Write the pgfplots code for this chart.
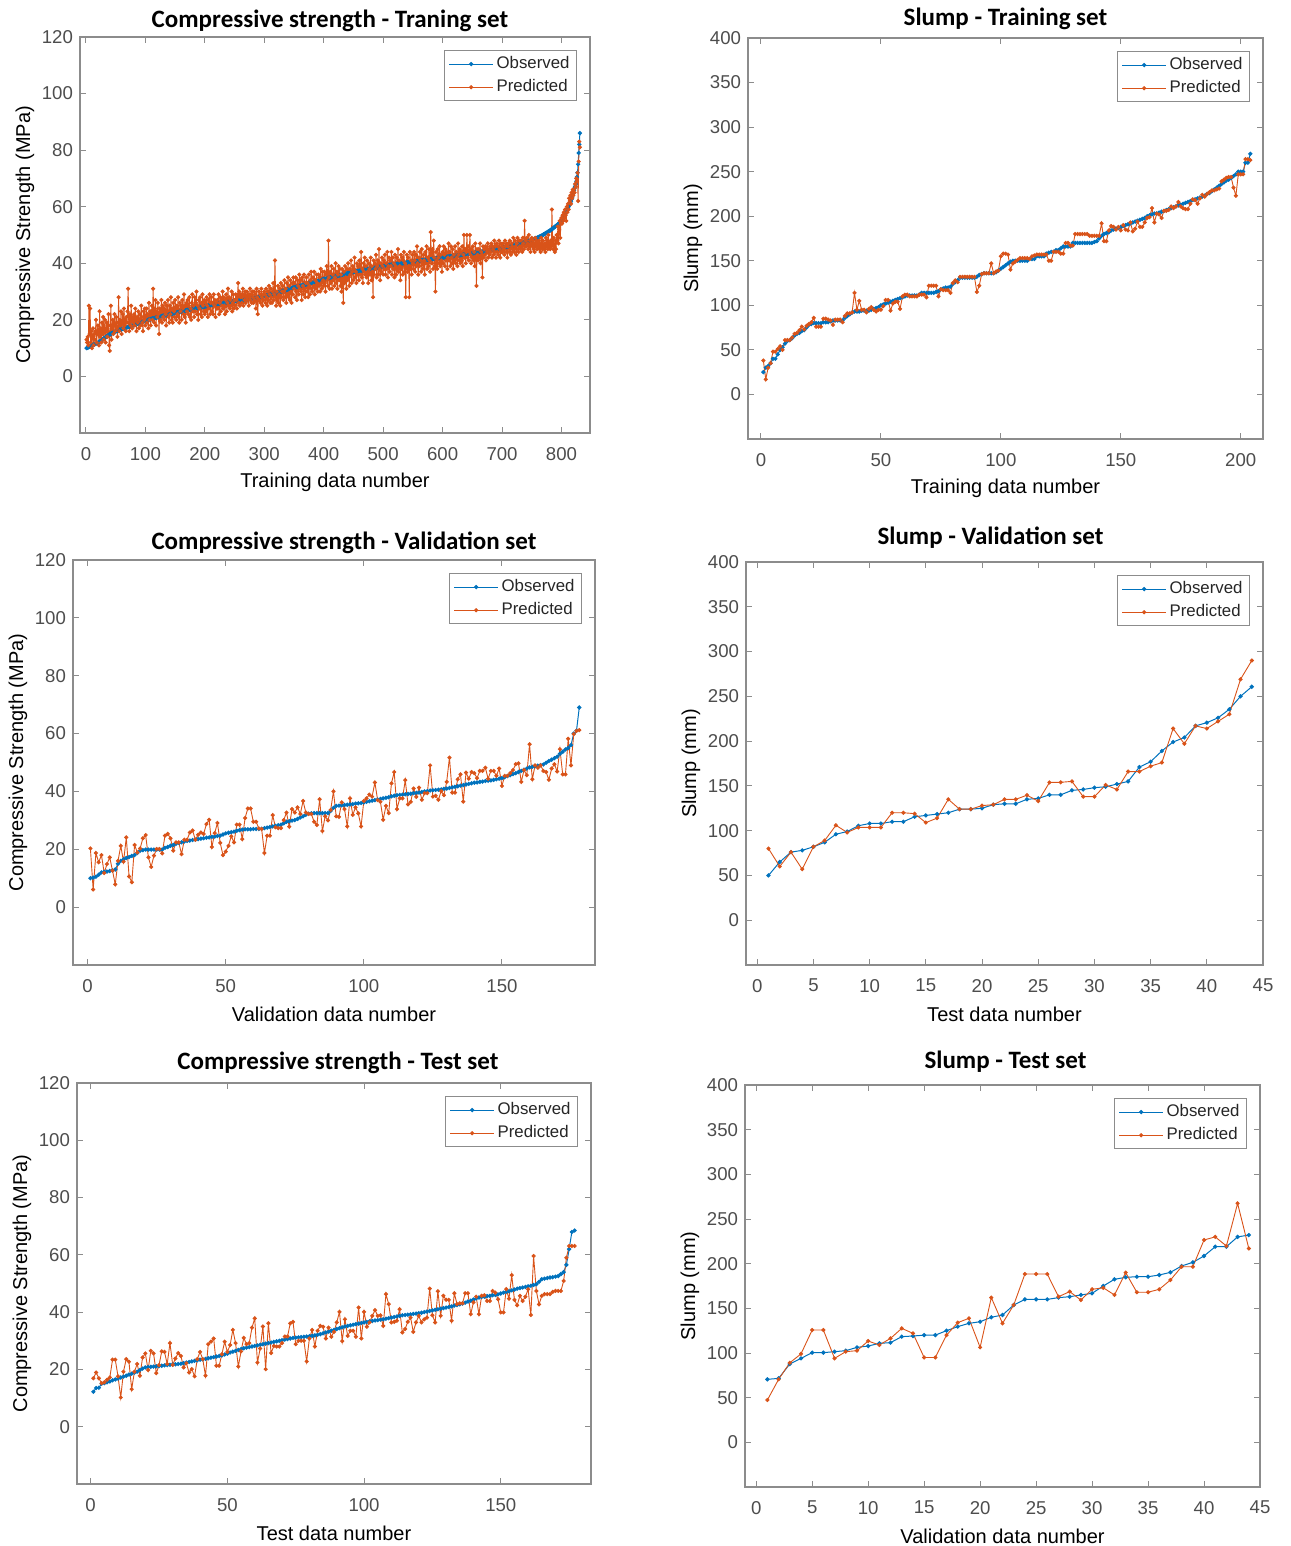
\documentclass[border=0pt]{standalone}
\usepackage{pgfplots}
\pgfplotsset{compat=1.18}
\usepackage{pgfplotstable}
\usepackage{fontspec}
\setmainfont{Liberation Sans}
\newfontfamily\titlefont{Carlito}
\definecolor{mblue}{RGB}{0,114,189}
\definecolor{morange}{RGB}{217,83,25}
\definecolor{axgray}{RGB}{140,140,140}
\definecolor{txgray}{RGB}{77,77,77}

% compressive strength, training set (observed, predicted)
\pgfplotstableread{
o p
10.0 13
10.1 12
10.2 14
10.3 11
10.4 25
10.5 15
10.6 24
10.7 12
10.8 16
10.9 10
11.0 14
11.1 17
11.2 11
11.3 15
11.4 13
11.5 16
11.6 20
11.7 12
11.8 15
11.9 18
12.0 16
12.2 11
12.3 23
12.5 14
12.6 17
12.8 12
12.9 19
13.1 15
13.2 21
13.4 13
13.5 17
13.7 20
13.8 12
14.0 16
14.1 19
14.3 14
14.4 18
14.6 22
14.7 11
14.9 9
15.0 18
15.1 25
15.2 13
15.3 17
15.4 20
15.5 15
15.6 19
15.7 22
15.8 16
15.9 18
16.0 21
16.1 17
16.2 14
16.2 19
16.3 28
16.4 16
16.5 20
16.6 18
16.6 23
16.7 15
16.8 19
16.9 22
16.9 17
17.0 24
17.1 18
17.1 20
17.2 16
17.3 21
17.3 19
17.4 23
17.5 31
17.6 19
17.6 16
17.7 22
17.8 18
17.8 25
17.9 20
18.0 17
18.0 21
18.1 19
18.2 22
18.3 18
18.4 24
18.4 20
18.5 16
18.6 21
18.7 19
18.7 23
18.8 17
18.9 20
19.0 22
19.1 18
19.2 25
19.2 21
19.3 19
19.4 16
19.5 23
19.5 20
19.6 24
19.7 18
19.8 21
19.9 24
19.9 19
20.0 22
20.0 17
20.1 26
20.1 20
20.2 23
20.2 18
20.3 22
20.4 25
20.5 20
20.5 31
20.6 22
20.6 19
20.7 24
20.7 27
20.8 18
20.8 23
20.9 21
21.0 26
21.0 22
21.1 15
21.1 24
21.2 20
21.2 23
21.3 27
21.3 19
21.4 25
21.4 21
21.5 24
21.5 20
21.6 26
21.6 22
21.7 18
21.7 25
21.8 23
21.8 27
21.9 21
21.9 19
22.0 25
22.0 22
22.1 28
22.1 20
22.2 24
22.2 19
22.3 26
22.3 23
22.4 21
22.4 27
22.5 24
22.5 20
22.6 25
22.6 22
22.7 28
22.7 21
22.8 19
22.8 26
22.9 23
22.9 25
23.0 20
23.0 27
23.1 24
23.1 22
23.2 29
23.2 21
23.3 25
23.3 19
23.4 26
23.4 23
23.5 27
23.5 22
23.6 25
23.6 28
23.7 21
23.7 24
23.8 20
23.8 26
23.9 29
23.9 23
24.0 25
24.0 21
24.1 28
24.1 23
24.1 26
24.2 30
24.2 22
24.2 25
24.3 20
24.3 27
24.4 24
24.4 28
24.5 22
24.5 26
24.5 21
24.6 29
24.6 25
24.6 23
24.7 27
24.7 22
24.8 26
24.8 23
24.9 28
24.9 25
25.0 21
25.0 27
25.1 24
25.1 29
25.2 22
25.2 26
25.3 28
25.3 23
25.4 26
25.4 22
25.4 29
25.5 25
25.5 27
25.5 21
25.6 26
25.6 24
25.7 27
25.7 24
25.7 29
25.8 22
25.8 26
25.8 28
25.9 23
25.9 27
25.9 25
25.9 30
26.0 24
26.0 28
26.1 25
26.1 22
26.1 27
26.2 29
26.2 23
26.2 26
26.3 31
26.3 25
26.4 28
26.4 24
26.4 27
26.5 25
26.5 30
26.5 23
26.6 26
26.6 29
26.6 24
26.6 27
26.7 25
26.7 29
26.7 27
26.8 24
26.8 28
26.8 33
26.9 26
26.9 30
26.9 25
26.9 28
27.0 29
27.0 26
27.0 28
27.1 31
27.1 25
27.1 29
27.2 27
27.2 30
27.2 26
27.2 28
27.3 30
27.3 27
27.4 29
27.4 25
27.4 28
27.5 31
27.5 27
27.5 29
27.6 26
27.6 30
27.7 28
27.7 26
27.8 30
27.8 27
27.8 29
27.9 24
27.9 31
27.9 28
28.0 22
28.0 27
28.1 30
28.1 27
28.2 29
28.2 26
28.2 31
28.3 28
28.3 25
28.3 29
28.4 27
28.4 30
28.5 29
28.5 26
28.6 31
28.6 28
28.7 25
28.7 30
28.8 27
28.8 32
28.9 29
28.9 26
29.0 31
29.0 28
29.1 26
29.1 30
29.2 33
29.2 27
29.3 29
29.3 41
29.4 28
29.4 25
29.5 30
29.6 27
29.6 32
29.7 26
29.8 29
29.8 31
29.9 25
30.0 33
30.0 28
30.1 30
30.2 32
30.3 27
30.3 30
30.4 34
30.5 28
30.5 31
30.6 26
30.7 33
30.7 29
30.8 35
30.9 28
31.0 32
31.0 27
31.1 34
31.2 30
31.2 26
31.3 33
31.3 29
31.4 35
31.4 31
31.5 33
31.5 28
31.6 35
31.6 30
31.7 27
31.7 34
31.8 32
31.8 29
31.9 36
31.9 31
32.0 34
32.1 30
32.1 27
32.2 35
32.2 32
32.3 29
32.4 36
32.4 31
32.5 28
32.5 33
32.6 35
32.7 30
32.7 33
32.8 28
32.8 36
32.9 32
33.0 29
33.0 34
33.1 37
33.1 31
33.2 30
33.3 35
33.3 32
33.4 37
33.4 29
33.5 34
33.6 31
33.6 36
33.7 33
33.7 30
33.8 36
33.9 32
33.9 35
34.0 30
34.0 38
34.1 33
34.2 31
34.2 37
34.3 34
34.3 32
34.4 37
34.5 33
34.5 30
34.6 36
34.6 39
34.7 34
34.8 32
34.8 48
34.9 35
34.9 31
35.0 37
35.0 33
35.1 39
35.1 31
35.2 36
35.2 34
35.3 38
35.3 32
35.4 35
35.4 40
35.5 33
35.5 37
35.6 31
35.6 36
35.7 39
35.7 34
35.8 38
35.8 32
35.9 36
35.9 30
36.0 38
36.0 34
36.1 26
36.1 37
36.2 33
36.2 39
36.3 35
36.3 31
36.4 38
36.4 34
36.5 40
36.5 35
36.6 32
36.6 38
36.7 36
36.7 41
36.8 33
36.8 37
36.9 39
36.9 34
37.0 38
37.0 42
37.1 35
37.1 37
37.1 33
37.2 40
37.2 36
37.2 39
37.3 34
37.3 41
37.4 36
37.4 39
37.5 44
37.5 35
37.5 38
37.6 33
37.6 40
37.6 37
37.7 42
37.7 36
37.8 39
37.8 35
37.9 41
37.9 37
37.9 33
38.0 40
38.0 38
38.0 36
38.1 42
38.1 34
38.2 39
38.2 37
38.3 28
38.3 41
38.3 36
38.4 40
38.4 38
38.4 43
38.5 35
38.5 39
38.6 41
38.6 36
38.7 45
38.7 38
38.7 34
38.8 40
38.8 37
38.8 42
38.9 39
38.9 36
39.0 41
39.0 38
39.1 43
39.1 36
39.1 40
39.2 38
39.2 44
39.2 35
39.3 39
39.3 42
39.4 37
39.4 41
39.4 39
39.5 44
39.5 36
39.5 42
39.5 38
39.6 40
39.6 35
39.6 43
39.7 39
39.7 36
39.7 42
39.8 38
39.8 45
39.8 37
39.8 41
39.9 39
39.9 34
39.9 43
40.0 38
40.0 42
40.0 36
40.1 41
40.1 44
40.1 37
40.1 40
40.2 28
40.2 39
40.2 43
40.3 37
40.3 42
40.3 39
40.4 28
40.4 44
40.4 38
40.4 41
40.5 36
40.5 43
40.5 40
40.6 38
40.6 44
40.6 41
40.7 37
40.7 43
40.7 39
40.7 46
40.8 40
40.8 36
40.8 42
40.9 39
40.9 44
40.9 41
41.0 37
41.0 45
41.0 40
41.0 38
41.1 43
41.1 41
41.1 36
41.2 44
41.2 40
41.2 46
41.3 38
41.3 42
41.3 39
41.3 45
41.4 41
41.4 37
41.4 51
41.5 43
41.5 40
41.5 45
41.6 38
41.6 48
41.6 42
41.6 39
41.7 30
41.7 44
41.7 41
41.8 38
41.8 45
41.8 42
41.9 40
41.9 46
41.9 39
41.9 43
42.0 41
42.0 37
42.0 44
42.1 40
42.1 46
42.1 43
42.2 39
42.2 45
42.2 41
42.2 44
42.3 38
42.3 42
42.3 47
42.4 41
42.4 44
42.4 39
42.5 46
42.5 42
42.5 40
42.5 45
42.6 38
42.6 43
42.6 41
42.7 46
42.7 40
42.7 44
42.8 42
42.8 39
42.8 47
42.8 43
42.9 41
42.9 45
42.9 40
43.0 44
43.0 41
43.0 46
43.1 39
43.1 43
43.1 50
43.1 42
43.2 45
43.2 40
43.2 44
43.3 50
43.3 42
43.3 46
43.4 41
43.4 44
43.4 50
43.4 43
43.5 40
43.5 45
43.5 42
43.6 46
43.6 41
43.7 44
43.7 39
43.7 47
43.8 42
43.8 32
43.8 45
43.9 43
43.9 41
44.0 45
44.0 42
44.0 47
44.1 40
44.1 44
44.1 43
44.1 35
44.2 46
44.2 42
44.2 45
44.3 43
44.3 46
44.4 41
44.4 45
44.4 44
44.5 47
44.5 42
44.5 45
44.6 43
44.6 46
44.7 44
44.7 47
44.8 42
44.8 46
44.8 45
44.9 43
44.9 48
44.9 44
45.0 46
45.0 42
45.1 47
45.1 44
45.2 46
45.2 43
45.2 48
45.3 45
45.3 42
45.3 47
45.4 44
45.4 46
45.5 44
45.5 47
45.6 45
45.6 43
45.7 48
45.7 46
45.8 44
45.8 47
45.9 42
45.9 46
46.0 47
46.0 44
46.1 48
46.1 45
46.2 43
46.2 47
46.3 46
46.3 44
46.4 49
46.4 45
46.5 44
46.5 48
46.6 46
46.6 43
46.7 47
46.7 49
46.8 45
46.8 44
46.9 48
46.9 46
47.0 45
47.1 48
47.1 46
47.2 44
47.2 49
47.3 47
47.4 45
47.4 55
47.5 46
47.5 48
47.6 46
47.7 49
47.7 47
47.8 45
47.9 50
47.9 46
48.0 48
48.1 44
48.1 47
48.2 49
48.3 46
48.4 48
48.5 45
48.6 47
48.7 44
48.7 49
48.8 46
48.9 48
49.0 45
49.1 47
49.2 46
49.3 48
49.4 45
49.5 47
49.6 44
49.7 49
49.8 46
49.9 45
50.0 48
50.2 46
50.3 45
50.4 47
50.6 44
50.7 49
50.8 46
50.9 48
51.1 45
51.2 50
51.3 46
51.5 47
51.6 45
51.8 48
51.9 46
52.1 59
52.2 47
52.4 45
52.6 49
52.7 46
52.9 44
53.1 48
53.2 45
53.4 50
53.6 48
53.8 53
54.0 47
54.2 52
54.4 55
54.7 49
54.9 54
55.1 56
55.3 54
55.7 57
56.1 55
56.5 58
56.9 56
57.3 59
57.8 57
58.3 55
58.8 60
59.2 58
59.5 61
60.0 59
60.5 63
61.0 62
61.5 64
62.0 61
62.6 65
63.2 63
63.9 66
64.7 64
65.8 66
66.5 65
67.2 68
68.0 67
69.0 70
70.5 69
72.0 72
75.0 62
79.0 76
82.0 83
86.0 81
}\cstrain

% slump, training set
\pgfplotstableread{
o p
25 38
30 17
32 30
35 35
40 48
40 48
45 51
50 54
53 50
57 61
60 61
61 61
63 64
66 68
68 69
69 72
71 76
72 73
75 77
78 79
79 81
80 86
80 76
80 76
80 76
81 85
81 85
81 84
82 83
83 78
83 84
83 84
83 84
83 81
86 88
88 91
90 91
92 92
93 114
93 95
93 105
94 95
94 95
94 92
94 96
95 98
96 95
97 93
98 95
100 95
101 99
102 106
103 106
104 94
105 102
106 104
107 104
108 96
109 110
110 112
111 112
111 110
111 110
111 110
111 110
112 112
114 112
114 112
114 109
114 122
114 122
114 122
115 122
116 110
118 118
119 117
120 117
120 117
121 114
124 125
126 128
128 126
131 132
131 132
131 132
131 132
131 132
131 132
131 132
132 115
134 122
135 135
136 136
136 136
136 136
136 147
136 136
137 138
139 139
141 155
143 158
145 158
147 157
149 140
150 147
150 149
150 151
150 153
150 153
150 153
150 153
152 152
152 155
152 156
155 157
155 157
155 157
155 157
158 157
159 150
160 150
160 160
162 160
162 160
164 158
166 158
166 170
166 170
166 167
170 167
170 180
170 180
170 180
170 180
170 180
170 180
170 178
170 178
171 178
172 178
175 178
178 192
180 172
181 172
182 184
184 189
185 188
186 185
187 188
188 184
189 190
190 185
191 184
192 193
193 183
194 186
195 194
196 188
197 188
198 193
200 198
201 199
202 209
203 193
203 203
204 202
205 198
206 206
207 206
208 207
209 211
210 209
211 211
212 216
213 211
214 209
215 208
216 208
217 214
218 219
219 218
220 214
221 220
222 224
223 222
225 225
226 227
228 229
230 229
232 230
234 231
236 239
238 241
240 243
241 244
243 244
245 232
247 223
250 247
250 247
250 247
260 264
260 264
270 263
}\sltrain

% compressive strength, validation set
\pgfplotstableread{
o p
10.0 20.3
10.2 6.1
10.5 18.7
11.2 15.5
12.0 18.0
12.2 11.8
12.3 14.9
12.5 17.2
12.7 12.6
13.0 7.9
15.0 16.0
16.0 21.2
16.5 15.7
17.0 24.1
17.3 10.6
17.7 8.6
18.0 21.5
18.7 18.9
19.5 20.3
19.7 23.8
19.9 24.9
19.9 17.2
19.9 13.9
19.9 17.8
19.9 20.1
19.9 20.1
19.9 18.6
20.5 24.7
20.8 25.3
21.2 23.8
21.5 19.5
21.9 22.4
22.2 22.4
22.4 18.3
22.7 23.3
22.9 23.3
23.0 25.8
23.2 26.5
23.3 23.3
23.5 25.0
23.7 25.8
23.8 25.3
24.0 28.7
24.1 30.2
24.3 20.8
24.4 25.6
24.6 29.1
24.7 22.2
25.1 18.0
25.5 19.2
25.7 21.2
25.9 24.5
26.1 22.4
26.4 28.5
26.6 28.5
26.8 23.5
26.9 30.8
26.9 34.1
26.9 34.1
27.0 29.5
27.0 29.5
27.0 27.2
27.1 27.0
27.3 18.7
27.5 24.7
27.7 24.7
27.9 31.8
28.1 27.6
28.3 27.3
28.5 27.3
29.0 30.1
29.5 32.7
29.7 27.8
29.9 33.9
30.1 32.7
30.5 34.5
31.0 32.2
31.4 36.7
31.9 32.7
32.3 32.2
32.4 32.2
32.5 29.5
32.5 28.4
32.5 37.3
32.5 26.3
32.5 31.4
32.5 30.0
33.3 33.6
34.3 40.0
35.0 31.4
35.1 31.2
35.2 36.2
35.3 33.9
35.4 27.9
35.5 37.6
35.6 31.9
35.8 34.5
35.9 32.4
36.0 27.9
36.2 36.7
36.4 37.6
36.6 38.9
36.8 38.2
37.0 43.1
37.2 37.0
37.4 36.4
37.6 30.2
37.8 35.0
38.0 32.5
38.3 42.8
38.5 46.7
38.7 33.9
38.8 37.6
38.9 37.6
39.0 43.9
39.1 35.5
39.2 36.4
39.4 41.0
39.5 38.1
39.6 41.3
39.8 37.1
40.0 39.4
40.1 39.4
40.3 49.0
40.4 38.2
40.5 38.5
40.6 37.1
40.7 40.1
40.9 38.7
41.0 43.3
41.2 51.7
41.4 39.6
41.6 39.6
41.8 44.2
42.0 45.9
42.2 36.5
42.4 46.5
42.6 44.4
42.8 46.7
43.0 46.3
43.1 44.6
43.3 47.1
43.4 47.1
43.6 48.2
43.7 44.4
43.8 47.1
44.0 47.1
44.2 45.4
44.4 47.9
44.6 41.9
44.9 45.4
45.3 45.4
45.6 46.3
46.0 47.4
46.3 49.4
46.7 49.7
47.1 43.3
47.5 47.4
47.9 45.6
48.3 56.3
48.5 44.2
48.7 49.0
48.9 48.2
49.1 49.0
49.3 47.1
49.9 46.7
50.5 44.0
51.0 47.9
51.5 49.4
52.0 46.9
53.0 54.6
53.7 45.9
54.5 45.9
55.0 58.2
56.0 49.0
60.0 59.8
61.0 60.9
69.0 61.2
}\csval

% slump, validation set
\pgfplotstableread{
o p
50 80
65 60
76 76
78 57
82 82
87 89
96 106
99 98
105.5 103.6
108 103.6
108 103.6
110 120
110 120
115.5 119
117 109
118.5 114
120 135
124 124
124 124
125 128
129 129
130 135
130 135
135 139.6
136 133
140 153.8
140 154
145 155
146 138
148 138
149 151
152 146
155 166
171 166
177 172
189 176
199 214
204 197
217 217
220.6 214
226 222
235.5 230
250 269
260.7 290
}\slval

% compressive strength, test set
\pgfplotstableread{
o p
12.2 16.9
13.5 18.9
13.6 16.9
15.0 15.2
15.2 15.5
15.5 16.4
15.8 17.2
16.2 23.4
16.5 23.4
16.8 17.6
17.2 10.2
17.5 19.2
17.8 23.6
18.2 22.7
18.5 13.1
18.9 19.2
19.2 21.9
19.8 17.8
20.3 24.2
20.7 25.6
20.8 19.8
20.9 26.5
21.0 25.6
21.1 18.7
21.2 21.5
21.3 26.3
21.4 26.1
21.5 21.9
21.6 29.2
21.7 21.6
21.8 23.8
21.9 25.7
22.0 24.7
22.2 20.7
22.4 22.2
22.6 18.9
22.8 20.1
23.0 17.6
23.2 23.6
23.4 26.1
23.5 23.6
23.7 17.8
23.9 28.8
24.1 29.7
24.3 30.8
24.5 21.3
24.7 21.3
24.9 25.3
25.2 29.7
25.5 26.1
25.9 28.5
26.2 33.8
26.5 29.2
26.8 21.0
27.1 26.3
27.4 31.0
27.6 28.8
27.8 29.2
28.0 34.6
28.2 37.8
28.4 22.4
28.6 27.3
28.8 35.0
29.0 20.1
29.2 36.1
29.4 25.7
29.6 28.2
29.8 28.0
30.0 28.0
30.2 29.2
30.4 31.5
30.6 31.5
30.8 36.1
31.0 36.6
31.1 28.8
31.2 30.0
31.3 30.0
31.4 30.0
31.5 22.8
31.6 30.8
31.7 33.8
31.9 28.0
32.1 33.5
32.3 35.2
32.6 34.9
32.9 30.8
33.2 34.6
33.5 31.4
33.8 33.1
34.1 36.4
34.4 40.1
34.7 29.9
35.0 37.5
35.2 31.7
35.4 33.5
35.6 33.5
35.8 31.4
36.0 41.6
36.2 30.8
36.4 40.1
36.6 34.9
36.8 36.4
36.9 38.7
37.1 40.7
37.2 38.7
37.4 38.9
37.5 35.2
37.7 46.3
37.9 42.8
38.1 36.4
38.3 36.6
38.5 37.0
38.7 41.0
38.9 32.9
39.0 34.1
39.1 36.6
39.2 38.1
39.4 33.1
39.5 36.4
39.6 38.7
39.8 36.4
40.0 37.5
40.2 38.1
40.4 48.2
40.6 38.9
40.8 36.4
41.0 47.3
41.2 38.7
41.4 45.7
41.6 44.3
41.8 44.3
42.0 37.0
42.3 46.6
42.5 42.8
42.7 43.1
43.0 43.1
43.3 46.6
43.7 46.6
44.0 39.3
44.4 43.4
44.8 45.4
45.1 39.3
45.3 45.7
45.4 45.9
45.6 43.9
45.7 43.9
45.9 47.4
46.0 46.8
46.2 44.5
46.5 39.9
46.8 39.9
47.1 48.0
47.3 44.7
47.6 52.9
47.9 44.3
48.2 42.4
48.4 45.7
48.6 43.9
48.8 45.4
49.0 48.0
49.2 39.0
49.5 59.6
49.7 47.4
50.6 42.7
51.5 45.7
51.7 46.3
51.9 46.3
52.1 46.3
52.2 47.1
52.4 47.4
52.6 47.4
53.3 47.4
54.0 50.9
56.5 59.0
62.0 63.1
68.0 63.1
68.5 63.1
}\cstest

% slump, test set
\pgfplotstableread{
o p
70.5 47.4
71.6 70.5
87.7 89
94 99
100.4 125.7
100.4 125.7
101.5 94
102.6 101.5
106.3 102.6
107.8 113.4
110.8 109
111.6 116.4
118.3 127.6
119 122
120 95
120 95
125 120
129.5 134
133.2 138.8
135 106.3
140 162
142.5 133.2
153.7 153.7
160 188.4
160 188.4
160 188.4
162 163
163 168.7
165 159.3
166.8 171.3
175 173
182.5 165
184.7 190
185.4 168
185.4 168
187.3 171.3
190.3 181.7
197.4 196.6
201.5 196.6
208.6 226.5
219 230
219 219.8
230 267.5
232 217
}\sltest

\pgfplotsset{
  mat/.style={
    scale only axis,
    anchor=south west,
    axis line style={draw=axgray, line width=0.6pt},
    every tick/.style={draw=axgray, line width=0.5pt},
    major tick length=3pt,
    tick align=inside,
    tick label style={font=\fontsize{9.3}{10}\selectfont, text=txgray},
    /pgf/number format/assume math mode=true,
    xticklabel style={yshift=-3.5pt},
    label style={font=\fontsize{10.65}{12}\selectfont, text=txgray},
    every axis x label/.style={at={([yshift=-24.5pt]axis description cs:0.5,0)}, anchor=center},
    every axis y label/.style={at={([xshift=-27.5pt]axis description cs:0,0.5)}, anchor=center, rotate=90},
    every axis title/.style={at={(axis description cs:0.5,1)}, anchor=center,
      font=\titlefont\bfseries\fontsize{12.5}{14}\selectfont, text=black},
    legend style={at={([xshift=-6.5pt,yshift=-6.5pt]axis description cs:1,1)}, anchor=north east,
      draw=black!45, line width=0.5pt, fill=white, font=\fontsize{8.4}{9.5}\selectfont,
      text=black!85, inner xsep=2pt, inner ysep=1.5pt, row sep=1pt, nodes={inner sep=1.5pt}},
    legend cell align=left,
    legend image code/.code={\draw[mark repeat=2,mark phase=2,#1] plot coordinates {(0pt,0pt) (11pt,0pt) (22pt,0pt)};},
  },
  obs/.style={color=mblue, line width=0.5pt, mark=*, mark size=0.8pt},
  pre/.style={color=morange, line width=0.45pt, mark=*, mark size=0.8pt},
}

\begin{document}
\begin{tikzpicture}
\path[use as bounding box] (0,0) rectangle (645pt,773pt);

% top left
\begin{axis}[mat, at={(40pt,556.5pt)}, width=255pt, height=198pt,
  xmin=-10, xmax=848, ymin=-20, ymax=120,
  xtick={0,100,...,800}, ytick={0,20,...,120},
  title={Compressive strength - Traning set}, title style={xshift=-2.5pt, yshift=8pt},
  xlabel={Training data number}, ylabel={Compressive Strength (MPa)}]
\addplot[obs] table[x expr=\coordindex+1, y=o] {\cstrain};
\addplot[pre] table[x expr=\coordindex+1, y=p] {\cstrain};
\legend{Observed, Predicted}
\end{axis}

% top right
\begin{axis}[mat, at={(374pt,553.5pt)}, width=257.5pt, height=200.5pt,
  xmin=-5.4, xmax=209.3, ymin=-50, ymax=400,
  xtick={0,50,...,200}, ytick={0,50,...,400},
  title={Slump - Training set}, title style={yshift=9.5pt},
  xlabel={Training data number}, ylabel={Slump (mm)}]
\addplot[obs] table[x expr=\coordindex+1, y=o] {\sltrain};
\addplot[pre] table[x expr=\coordindex+1, y=p] {\sltrain};
\legend{Observed, Predicted}
\end{axis}

% middle left
\begin{axis}[mat, at={(36.5pt,290.5pt)}, width=261pt, height=202.5pt,
  xmin=-5.3, xmax=183.7, ymin=-20, ymax=120,
  xtick={0,50,...,150}, ytick={0,20,...,120},
  title={Compressive strength - Validation set}, title style={xshift=5pt, yshift=8.5pt},
  xlabel={Validation data number}, ylabel={Compressive Strength (MPa)}]
\addplot[obs] table[x expr=\coordindex+1, y=o] {\csval};
\addplot[pre] table[x expr=\coordindex+1, y=p] {\csval};
\legend{Observed, Predicted}
\end{axis}

% middle right
\begin{axis}[mat, at={(373pt,290.5pt)}, width=258.5pt, height=201.5pt,
  xmin=-1, xmax=45, ymin=-50, ymax=400,
  xtick={0,5,...,45}, ytick={0,50,...,400},
  title={Slump - Validation set}, title style={xshift=-7pt, yshift=12pt},
  xlabel={Test data number}, ylabel={Slump (mm)}]
\addplot[obs] table[x expr=\coordindex+1, y=o] {\slval};
\addplot[pre] table[x expr=\coordindex+1, y=p] {\slval};
\legend{Observed, Predicted}
\end{axis}

% bottom left
\begin{axis}[mat, at={(38.5pt,31pt)}, width=257pt, height=200.5pt,
  xmin=-5, xmax=183, ymin=-20, ymax=120,
  xtick={0,50,...,150}, ytick={0,20,...,120},
  title={Compressive strength - Test set}, title style={xshift=2pt, yshift=10pt},
  xlabel={Test data number}, ylabel={Compressive Strength (MPa)}]
\addplot[obs] table[x expr=\coordindex+1, y=o] {\cstest};
\addplot[pre] table[x expr=\coordindex+1, y=p] {\cstest};
\legend{Observed, Predicted}
\end{axis}

% bottom right
\begin{axis}[mat, at={(372.5pt,29.5pt)}, width=257.5pt, height=201pt,
  xmin=-1, xmax=45, ymin=-50, ymax=400,
  xtick={0,5,...,45}, ytick={0,50,...,400},
  title={Slump - Test set}, title style={xshift=1.5pt, yshift=11.5pt},
  xlabel={Validation data number}, ylabel={Slump (mm)}]
\addplot[obs] table[x expr=\coordindex+1, y=o] {\sltest};
\addplot[pre] table[x expr=\coordindex+1, y=p] {\sltest};
\legend{Observed, Predicted}
\end{axis}
\end{tikzpicture}
\end{document}
